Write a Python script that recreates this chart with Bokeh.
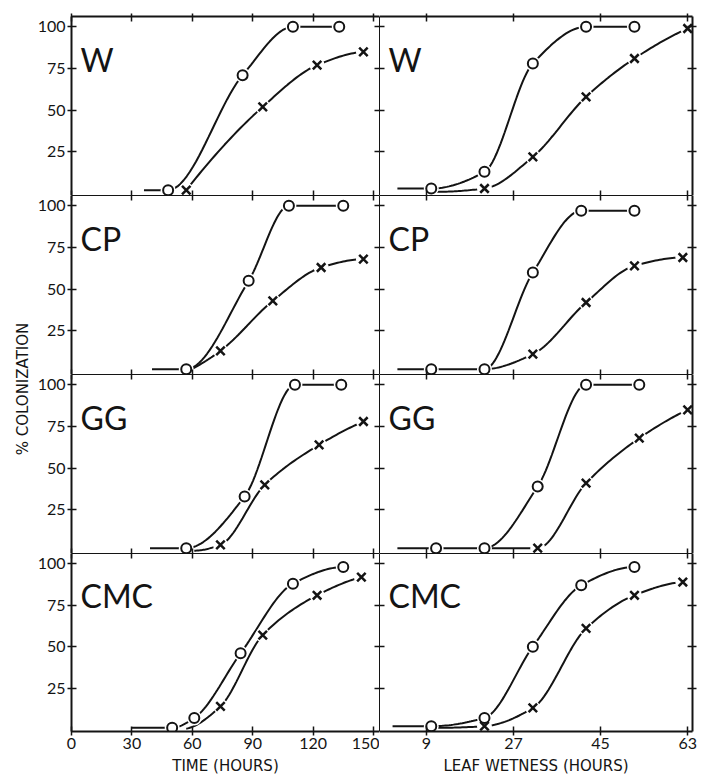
import numpy as np
from bokeh.plotting import figure
from bokeh.layouts import gridplot, row as brow
from bokeh.models import LinearAxis, FixedTicker, Range1d, Label
from bokeh.embed import file_html
from bokeh.resources import INLINE

# ---------------- data ----------------
treatments = ["W", "CP", "GG", "CMC"]
time_ticks = [0, 30, 60, 90, 120, 150]
wet_ticks = [9, 27, 45, 63]
pct_ticks = [25, 50, 75, 100]

# Left column: colonization vs time (hours); "o" series and "x" series
w_time_o_x = [48, 85, 110, 133]
w_time_o_y = [2, 71, 100, 100]
w_time_x_x = [57, 95, 122, 145]
w_time_x_y = [2, 52, 77, 85]
cp_time_o_x = [57, 88, 108, 135]
cp_time_o_y = [2, 55, 100, 100]
cp_time_x_x = [74, 100, 124, 145]
cp_time_x_y = [13, 43, 63, 68]
gg_time_o_x = [57, 86, 111, 134]
gg_time_o_y = [2, 33, 100, 100]
gg_time_x_x = [74, 96, 123, 145]
gg_time_x_y = [4, 40, 64, 78]
cmc_time_o_x = [50, 61, 84, 110, 135]
cmc_time_o_y = [1, 7, 46, 88, 98]
cmc_time_x_x = [74, 95, 122, 144]
cmc_time_x_y = [14, 57, 81, 92]
# where the drawn curves begin (no marker there)
time_o_lead_x = [36, 40, 39, 30]
time_x_lead_x = [None, 58, 61, 57]
time_x_lead_y = [None, 1, 0.5, 0.5]

# Right column: colonization vs leaf wetness (hours)
w_wet_o_x = [10, 21, 31, 42, 52]
w_wet_o_y = [3, 13, 78, 100, 100]
w_wet_x_x = [21, 31, 42, 52, 63]
w_wet_x_y = [3, 22, 58, 81, 99]
cp_wet_o_x = [10, 21, 31, 41, 52]
cp_wet_o_y = [2, 2, 60, 97, 97]
cp_wet_x_x = [31, 42, 52, 62]
cp_wet_x_y = [11, 42, 64, 69]
gg_wet_o_x = [11, 21, 32, 42, 53]
gg_wet_o_y = [2, 2, 39, 100, 100]
gg_wet_x_x = [32, 42, 53, 63]
gg_wet_x_y = [2, 41, 68, 85]
cmc_wet_o_x = [10, 21, 31, 41, 52]
cmc_wet_o_y = [2, 7, 50, 87, 98]
cmc_wet_x_x = [21, 31, 42, 52, 62]
cmc_wet_x_y = [2, 13, 61, 81, 89]
wet_o_lead_x = [3, 3, 3, 2]
wet_x_lead_x = [11, 21, 21, 11]
wet_x_lead_y = [1, 2, 2, 1]

time_o = [(w_time_o_x, w_time_o_y), (cp_time_o_x, cp_time_o_y),
          (gg_time_o_x, gg_time_o_y), (cmc_time_o_x, cmc_time_o_y)]
time_x = [(w_time_x_x, w_time_x_y), (cp_time_x_x, cp_time_x_y),
          (gg_time_x_x, gg_time_x_y), (cmc_time_x_x, cmc_time_x_y)]
wet_o = [(w_wet_o_x, w_wet_o_y), (cp_wet_o_x, cp_wet_o_y),
         (gg_wet_o_x, gg_wet_o_y), (cmc_wet_o_x, cmc_wet_o_y)]
wet_x = [(w_wet_x_x, w_wet_x_y), (cp_wet_x_x, cp_wet_x_y),
         (gg_wet_x_x, gg_wet_x_y), (cmc_wet_x_x, cmc_wet_x_y)]

INK = "#141414"


def smooth_path(xs, ys, n=24):
    """Monotone cubic (Fritsch-Carlson) path through the given points, for drawing."""
    x = np.asarray(xs, float)
    y = np.asarray(ys, float)
    if len(x) < 2:
        return x, y
    h = np.diff(x)
    d = np.diff(y) / h
    m = np.zeros_like(x)
    for k in range(1, len(x) - 1):
        if d[k - 1] * d[k] > 0:
            w1 = 2 * h[k] + h[k - 1]
            w2 = h[k] + 2 * h[k - 1]
            m[k] = (w1 + w2) / (w1 / d[k - 1] + w2 / d[k])

    def end(h0, h1, d0, d1):
        mm = ((2 * h0 + h1) * d0 - h0 * d1) / (h0 + h1)
        if np.sign(mm) != np.sign(d0):
            mm = 0.0
        elif np.sign(d0) != np.sign(d1) and abs(mm) > abs(3 * d0):
            mm = 3 * d0
        return mm

    if len(x) > 2:
        m[0] = end(h[0], h[1], d[0], d[1])
        m[-1] = end(h[-1], h[-2], d[-1], d[-2])
    else:
        m[0] = m[-1] = d[0]
    px, py = [], []
    for k in range(len(h)):
        t = np.linspace(0, 1, n, endpoint=(k == len(h) - 1))
        h00 = 2 * t**3 - 3 * t**2 + 1
        h10 = t**3 - 2 * t**2 + t
        h01 = -2 * t**3 + 3 * t**2
        h11 = t**3 - t**2
        py.append(h00 * y[k] + h10 * h[k] * m[k] + h01 * y[k + 1] + h11 * h[k] * m[k + 1])
        px.append(x[k] + t * h[k])
    return np.concatenate(px), np.concatenate(py)


def add_axis(p, side, ticks, tin, tout, width, labels=False, title=None):
    ax = LinearAxis(ticker=FixedTicker(ticks=ticks),
                    major_tick_in=tin, major_tick_out=tout,
                    minor_tick_line_color=None,
                    axis_line_width=width, axis_line_color=INK,
                    major_tick_line_width=1.5, major_tick_line_color=INK)
    if labels:
        ax.major_label_text_font = "Lato"
        ax.major_label_text_font_size = "16px"
        ax.major_label_text_color = INK
        ax.major_label_standoff = 2
    else:
        ax.major_label_text_font_size = "0px"
        ax.major_label_text_color = None
        ax.major_label_standoff = 0
    if title:
        ax.axis_label = title
        ax.axis_label_text_font = "DejaVu Sans"
        ax.axis_label_text_font_size = "15px"
        ax.axis_label_text_font_style = "normal"
        ax.axis_label_text_color = INK
        ax.axis_label_standoff = 5
    p.add_layout(ax, side)


FRAME_H = 179
LEFT_W, RIGHT_W = 312, 313
STRIP_W = 34
B_LEFT, B_RIGHT, B_TOP, B_BOTTOM = 33, 6, 16, 45
Y_LO, Y_HI = -1.2, 106.2

rows = []
for r in range(4):
    cells = []
    for c in range(2):
        left = c == 0
        top = r == 0
        bottom = r == 3
        w = (B_LEFT + LEFT_W) if left else (RIGHT_W + B_RIGHT)
        h = FRAME_H + (B_TOP if top else 0) + (B_BOTTOM if bottom else 0)
        xr = Range1d(0, 153) if left else Range1d(-0.7, 64)
        p = figure(width=w, height=h, x_range=xr, y_range=Range1d(Y_LO, Y_HI),
                   output_backend="svg", toolbar_location=None,
                   x_axis_location=None, y_axis_location=None,
                   min_border=0,
                   min_border_left=B_LEFT if left else 0,
                   min_border_right=0 if left else B_RIGHT,
                   min_border_top=B_TOP if top else 0,
                   min_border_bottom=B_BOTTOM if bottom else 0,
                   outline_line_color=None,
                   background_fill_color="white", border_fill_color="white")
        p.xgrid.grid_line_color = None
        p.ygrid.grid_line_color = None
        xt = time_ticks if left else wet_ticks
        # axes / frame
        add_axis(p, "left", pct_ticks, 5, 4 if left else 0, 2 if left else 1, labels=left)
        add_axis(p, "right", pct_ticks, 5, 0 if left else 4, 1 if left else 2)
        add_axis(p, "above", xt, 5, 3 if top else 0, 2 if top else 1)
        add_axis(p, "below", xt, 5, 4 if bottom else 0, 2 if bottom else 1,
                 labels=bottom,
                 title=(("TIME (HOURS)" if left else "LEAF WETNESS (HOURS)") if bottom else None))

        if left:
            (ox, oy), (xx, xy) = time_o[r], time_x[r]
            olead = time_o_lead_x[r]
            xlead, xlead_y = time_x_lead_x[r], time_x_lead_y[r]
        else:
            (ox, oy), (xx, xy) = wet_o[r], wet_x[r]
            olead = wet_o_lead_x[r]
            xlead, xlead_y = wet_x_lead_x[r], wet_x_lead_y[r]

        # curves
        lx = ([olead] if olead is not None else []) + list(ox)
        ly = ([oy[0]] if olead is not None else []) + list(oy)
        sx, sy = smooth_path(lx, ly)
        p.line(sx, sy, line_color=INK, line_width=2)
        lx = ([xlead] if xlead is not None else []) + list(xx)
        ly = ([xlead_y] if xlead is not None else []) + list(xy)
        sx, sy = smooth_path(lx, ly)
        p.line(sx, sy, line_color=INK, line_width=2)

        # white halos so lines stop short of the markers
        p.scatter(list(ox) + list(xx), list(oy) + list(xy), marker="circle", size=15,
                  fill_color="white", line_color=None)
        # markers
        p.scatter(ox, oy, marker="circle", size=10, fill_color="white",
                  line_color=INK, line_width=2)
        p.scatter(xx, xy, marker="x", size=12, line_color=INK, line_width=2.5)

        # treatment label
        p.add_layout(Label(x=9, y=FRAME_H - 43, x_units="screen", y_units="screen",
                           text=treatments[r], text_font="Lato", text_font_size="32px",
                           text_color=INK, text_baseline="alphabetic", text_align="left"))
        cells.append(p)
    rows.append(cells)

grid = gridplot(rows, toolbar_location=None)

# narrow strip holding the shared y-axis title
total_h = B_TOP + 4 * FRAME_H + B_BOTTOM
strip = figure(width=STRIP_W, height=total_h, x_range=Range1d(0, 1), y_range=Range1d(0, 1),
               output_backend="svg", toolbar_location=None,
               x_axis_location=None, y_axis_location=None, min_border=0,
               outline_line_color=None, background_fill_color="white",
               border_fill_color="white")
strip.xgrid.grid_line_color = None
strip.ygrid.grid_line_color = None
strip.add_layout(Label(x=22 / STRIP_W, y=0.5, text="% COLONIZATION", angle=np.pi / 2,
                       text_font="DejaVu Sans", text_font_size="15px", text_color=INK,
                       text_align="center", text_baseline="middle"))

page = brow(strip, grid)

with open("out.html", "w") as f:
    f.write(file_html(page, INLINE))
